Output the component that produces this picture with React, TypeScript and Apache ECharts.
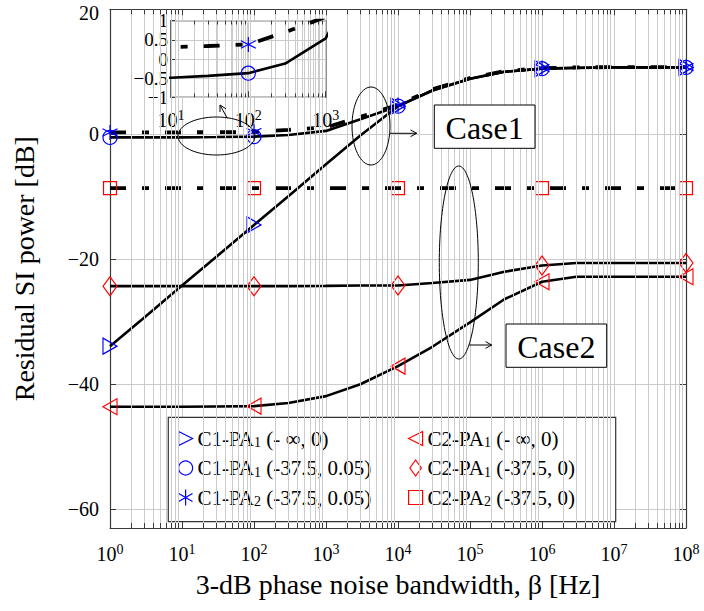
import React, { useEffect, useRef } from 'react';
import * as echarts from 'echarts';

// ---------------- data ----------------
const beta = [1, 3, 10, 30, 100, 300, 1e3, 3e3, 1e4, 3e4, 1e5, 3e5, 1e6, 3e6, 1e7, 3e7, 1e8];
const markerIdx = [0, 4, 8, 12, 16];

const c1Pa1Inf = [-33.9, -29.3, -24.2, -19.6, -14.5, -9.9, -4.8, -0.2, 4.5, 7.0, 8.9, 10.0, 10.5, 10.65, 10.7, 10.7, 10.7];
const c1Pa1 = [-0.5, -0.5, -0.49, -0.44, -0.37, -0.12, 0.54, 2.4, 4.5, 7.0, 8.9, 10.0, 10.5, 10.6, 10.7, 10.7, 10.7];
const c1Pa2 = [0.3, 0.3, 0.31, 0.34, 0.38, 0.7, 1.1, 2.8, 4.7, 7.2, 9.0, 10.1, 10.6, 10.7, 10.75, 10.75, 10.75];
const c2Pa1Inf = [-43.6, -43.6, -43.6, -43.55, -43.5, -43.0, -41.9, -40.0, -37.1, -34.0, -30.1, -26.4, -23.6, -22.8, -22.8, -22.8, -22.8];
const c2Pa1 = [-24.3, -24.3, -24.3, -24.3, -24.3, -24.3, -24.25, -24.2, -24.2, -23.8, -23.3, -22.0, -21.0, -20.6, -20.6, -20.6, -20.6];
const c2Pa2 = [-8.6, -8.6, -8.6, -8.6, -8.6, -8.6, -8.6, -8.6, -8.6, -8.6, -8.6, -8.6, -8.6, -8.6, -8.6, -8.6, -8.6];

const seriesNames = [
  'C1-PA1 (- ∞, 0)',
  'C1-PA1 (-37.5, 0.05)',
  'C1-PA2 (-37.5, 0.05)',
  'C2-PA1 (- ∞, 0)',
  'C2-PA1 (-37.5, 0)',
  'C2-PA2 (-37.5, 0)',
];

const yTicks = [-60, -40, -20, 0, 20];
const insetYTicks = [-1, -0.5, 0, 0.5, 1];
const minorMult = [2, 3, 4, 5, 6, 7, 8, 9];

const xTitle = '3-dB phase noise bandwidth, β [Hz]';
const yTitle = 'Residual SI power [dB]';

// ---------------- styling ----------------
const FONT = 'Liberation Serif, serif';
const GRID_C = '#cbcbcb';
const AXIS_C = '#3a3a3a';
const BLUE = '#0000ff';
const RED = '#ff0000';
const DASH = [16, 16, 7, 16];

const SYM = {
  triR: 'path://M0,0L10,5L0,10Z',
  triL: 'path://M10,0L0,5L10,10Z',
  circle: 'circle',
  star: 'path://M5,0L5,10M0.67,2.5L9.33,7.5M0.67,7.5L9.33,2.5',
  diamond: 'path://M5,0L10,7L5,14L0,7Z',
  square: 'path://M0,0L10,0L10,10L0,10Z',
};

const defs = [
  { name: seriesNames[0], values: c1Pa1Inf, symbol: SYM.triR, size: [14, 16], color: BLUE, dashed: false },
  { name: seriesNames[1], values: c1Pa1, symbol: SYM.circle, size: 14, color: BLUE, dashed: false },
  { name: seriesNames[2], values: c1Pa2, symbol: SYM.star, size: 15, color: BLUE, dashed: true },
  { name: seriesNames[3], values: c2Pa1Inf, symbol: SYM.triL, size: [14, 16], color: RED, dashed: false },
  { name: seriesNames[4], values: c2Pa1, symbol: SYM.diamond, size: [14, 19], color: RED, dashed: false },
  { name: seriesNames[5], values: c2Pa2, symbol: SYM.square, size: 13, color: RED, dashed: true },
];

function minorPositions(lo: number, hi: number) {
  const out: number[] = [];
  for (let p = lo; p < hi; p *= 10) for (const m of minorMult) out.push(p * m);
  return out;
}

const powLabel = (v: number) => `{b|10}{p|${Math.round(Math.log10(v))}}`;
const powRich = {
  b: { fontFamily: FONT, fontSize: 20, lineHeight: 24, color: '#000' },
  p: { fontFamily: FONT, fontSize: 14, lineHeight: 12, verticalAlign: 'top', color: '#000' },
};
const numLabel = (v: number) => (v < 0 ? '\u2212' + String(-v) : String(v));

function lineSeries(d: any, xi: number, yi: number, z: number, name: string) {
  return {
    type: 'line',
    name,
    xAxisIndex: xi,
    yAxisIndex: yi,
    z,
    data: beta.map((b, i) => ({
      value: [b, d.values[i]],
      symbol: markerIdx.includes(i) ? d.symbol : 'none',
    })),
    symbolSize: d.size,
    symbolKeepAspect: false,
    showAllSymbol: true,
    clip: true,
    silent: true,
    itemStyle: { color: 'rgba(0,0,0,0)', borderColor: d.color, borderWidth: 1.2 },
    lineStyle: { color: '#000', width: d.dashed ? 3.8 : 2.6, type: d.dashed ? DASH : 'solid', cap: 'butt' },
    emphasis: { disabled: true },
  };
}

function gridMarkSeries(xi: number, yi: number, z: number, xs: number[], ticks: any[], yLo: number) {
  return [
    {
      type: 'line', name: '_grid' + xi, xAxisIndex: xi, yAxisIndex: yi, z,
      data: [[xs[0], yLo - 100]], symbol: 'none', silent: true, lineStyle: { opacity: 0 },
      markLine: {
        silent: true, symbol: ['none', 'none'], label: { show: false }, emphasis: { disabled: true },
        lineStyle: { color: GRID_C, width: 1, type: 'solid' },
        data: xs.map((x) => ({ xAxis: x })),
      },
    },
    {
      type: 'line', name: '_tick' + xi, xAxisIndex: xi, yAxisIndex: yi, z: z + 0.5,
      data: [[xs[0], yLo - 100]], symbol: 'none', silent: true, lineStyle: { opacity: 0 },
      markLine: {
        silent: true, symbol: ['none', 'none'], label: { show: false }, emphasis: { disabled: true },
        lineStyle: { color: AXIS_C, width: 1, type: 'solid' },
        data: ticks,
      },
    },
  ];
}

function arrow(x1: number, y1: number, x2: number, y2: number) {
  const a = Math.atan2(y2 - y1, x2 - x1);
  const L = 7;
  const w = 0.5;
  return [
    { type: 'line', z: 6, shape: { x1, y1, x2, y2 }, style: { stroke: '#000', lineWidth: 1 } },
    {
      type: 'polyline', z: 6,
      shape: {
        points: [
          [x2 - L * Math.cos(a - w), y2 - L * Math.sin(a - w)],
          [x2, y2],
          [x2 - L * Math.cos(a + w), y2 - L * Math.sin(a + w)],
        ],
      },
      style: { stroke: '#000', fill: 'none', lineWidth: 1 },
    },
  ];
}

function ellipse(cx: number, cy: number, rx: number, ry: number) {
  return { type: 'ellipse', z: 6, shape: { cx, cy, rx, ry }, style: { fill: 'none', stroke: '#000', lineWidth: 1 } };
}

function caseBox(x: number, y: number, w: number, h: number, text: string) {
  return [
    { type: 'rect', z: 6, shape: { x, y, width: w, height: h }, style: { fill: '#fff', stroke: '#000', lineWidth: 1 } },
    {
      type: 'text', z: 7, x: x + w / 2, y: y + h / 2 + 1,
      style: { text, fontFamily: FONT, fontSize: 32, fill: '#000', align: 'center', verticalAlign: 'middle' },
    },
  ];
}

const legendRich = {
  t: { fontFamily: FONT, fontSize: 21, lineHeight: 22, color: '#000' },
  s: { fontFamily: FONT, fontSize: 14, lineHeight: 14, verticalAlign: 'bottom', color: '#000' },
};
const legendFmt = (name: string) => {
  const m = name.match(/^(.*PA)(\d)(.*)$/);
  if (!m) return name;
  return `{t|${m[1]}}{s|${m[2]}}{t|${m[3]}}`;
};
function legendData(idx: number[]) {
  return idx.map((i) => ({
    name: defs[i].name,
    icon: defs[i].symbol,
    itemStyle: { color: 'rgba(0,0,0,0)', borderColor: defs[i].color, borderWidth: 1.2 },
  }));
}

export default function App() {
  const ref = useRef<HTMLDivElement>(null);
  useEffect(() => {
    document.body.style.margin = '0';
    const chart = echarts.init(ref.current!, null, { renderer: 'svg' });

    const mainMinor = minorPositions(1, 1e8);
    const insetMinor = minorPositions(10, 1000);
    const mainTicks = mainMinor.flatMap((x) => [
      [{ coord: [x, -63] }, { coord: [x, -62.2] }],
      [{ coord: [x, 20] }, { coord: [x, 19.2] }],
    ]);
    const insetTicks = insetMinor.flatMap((x) => [
      [{ coord: [x, -1] }, { coord: [x, -0.9] }],
      [{ coord: [x, 1] }, { coord: [x, 0.9] }],
    ]);

    const axisLineMain = { show: true, onZero: false, lineStyle: { color: AXIS_C, width: 1.2 } };

    const option: any = {
      animation: false,
      backgroundColor: '#fff',
      textStyle: { fontFamily: FONT },
      grid: [
        { left: 110, top: 9.3, width: 576, height: 518.7, containLabel: false, outerBoundsMode: 'none' },
        {
          left: 171, top: 20.7, width: 154.7, height: 76.6, containLabel: false, outerBoundsMode: 'none',
          show: true, backgroundColor: '#fff', borderColor: '#000', borderWidth: 1.2, z: 3,
        },
      ],
      xAxis: [
        {
          type: 'log', logBase: 10, min: 1, max: 1e8, gridIndex: 0, position: 'bottom',
          axisLine: axisLineMain,
          axisTick: { show: true, inside: true, length: 6, lineStyle: { color: AXIS_C, width: 1 } },
          splitLine: { show: true, lineStyle: { color: GRID_C, width: 1 } },
          axisLabel: {
            margin: 14, formatter: powLabel, rich: powRich, fontFamily: FONT, color: '#000',
            showMinLabel: true, showMaxLabel: true,
          },
          name: xTitle, nameLocation: 'middle', nameGap: 42,
          nameTextStyle: { fontFamily: FONT, fontSize: 28, color: '#000' },
        },
        {
          type: 'log', logBase: 10, min: 1, max: 1e8, gridIndex: 0, position: 'top',
          axisLine: axisLineMain,
          axisTick: { show: true, inside: true, length: 6, lineStyle: { color: AXIS_C, width: 1 } },
          splitLine: { show: false }, axisLabel: { show: false },
        },
        {
          type: 'log', logBase: 10, min: 10, max: 1000, gridIndex: 1, position: 'bottom', z: 3,
          axisLine: { show: false, onZero: false },
          axisTick: { show: true, inside: true, length: 6, lineStyle: { color: AXIS_C, width: 1 } },
          splitLine: { show: true, lineStyle: { color: GRID_C, width: 1 } },
          axisLabel: {
            margin: 11, formatter: powLabel, rich: powRich, fontFamily: FONT, color: '#000',
            showMinLabel: true, showMaxLabel: true,
          },
        },
      ],
      yAxis: [
        {
          type: 'value', min: -63, max: 20, gridIndex: 0, position: 'left', splitNumber: 5,
          axisLine: axisLineMain,
          axisTick: { show: true, inside: true, length: 6, lineStyle: { color: AXIS_C, width: 1 } },
          splitLine: { show: true, lineStyle: { color: GRID_C, width: 1 } },
          axisLabel: {
            margin: 11, fontFamily: FONT, fontSize: 20, lineHeight: 15, color: '#000',
            showMinLabel: true, showMaxLabel: true,
            formatter: (v: number) =>
              yTicks.includes(v) ? (v === 20 ? '{top|' + numLabel(v) + '}' : numLabel(v)) : '',
            rich: { top: { fontFamily: FONT, fontSize: 20, lineHeight: 15, padding: [7, 0, 0, 0], color: '#000' } },
          },
          name: yTitle, nameLocation: 'middle', nameGap: 72,
          nameTextStyle: { fontFamily: FONT, fontSize: 28, color: '#000' },
        },
        {
          type: 'value', min: -63, max: 20, gridIndex: 0, position: 'right', splitNumber: 5,
          axisLine: axisLineMain,
          axisTick: { show: true, inside: true, length: 6, lineStyle: { color: AXIS_C, width: 1 } },
          splitLine: { show: false }, axisLabel: { show: false },
        },
        {
          type: 'value', min: -1, max: 1, interval: 0.5, gridIndex: 1, position: 'left', z: 3,
          axisLine: { show: false, onZero: false },
          axisTick: { show: true, inside: true, length: 5, lineStyle: { color: AXIS_C, width: 1 } },
          splitLine: { show: true, lineStyle: { color: GRID_C, width: 1 } },
          axisLabel: {
            margin: 3, fontFamily: FONT, fontSize: 19, lineHeight: 15, color: '#000',
            showMinLabel: true, showMaxLabel: true, hideOverlap: false,
            formatter: (v: number) => (insetYTicks.includes(v) ? numLabel(v) : ''),
          },
        },
      ],
      legend: [
        {
          data: legendData([0, 1, 2]), orient: 'vertical', left: 178, top: 428, padding: 0,
          itemGap: 8, itemWidth: 14, itemHeight: 16, selectedMode: false, z: 4,
          formatter: legendFmt, textStyle: { fontFamily: FONT, fontSize: 21, color: '#000', rich: legendRich },
        },
        {
          data: legendData([3, 4, 5]), orient: 'vertical', left: 408, top: 428, padding: 0,
          itemGap: 8, itemWidth: 14, itemHeight: 16, selectedMode: false, z: 4,
          formatter: legendFmt, textStyle: { fontFamily: FONT, fontSize: 21, color: '#000', rich: legendRich },
        },
      ],
      series: [
        ...gridMarkSeries(0, 0, 1, mainMinor, mainTicks, -63),
        ...defs.map((d) => lineSeries(d, 0, 0, 2, d.name)),
        ...gridMarkSeries(2, 2, 4, insetMinor, insetTicks, -1),
        lineSeries(defs[1], 2, 2, 5, 'inset-' + defs[1].name),
        lineSeries(defs[2], 2, 2, 5, 'inset-' + defs[2].name),
      ],
      graphic: [
        {
          type: 'rect', z: 3, shape: { x: 168.3, y: 417.3, width: 447.4, height: 104.4 },
          style: { fill: '#fff', stroke: '#333', lineWidth: 1.2 },
        },
        ellipse(216.5, 136, 38.5, 19),
        ...arrow(227.3, 118.3, 220, 105),
        ellipse(371, 126, 19, 39),
        ...arrow(390, 133.3, 416.7, 133.3),
        ...caseBox(434.3, 105, 100.7, 43.3, 'Case1'),
        ellipse(458.8, 262.5, 19.5, 96.5),
        ...arrow(469.3, 345, 491.7, 345),
        ...caseBox(506, 324, 100.7, 43.3, 'Case2'),
      ],
    };

    chart.setOption(option);
    return () => chart.dispose();
  }, []);
  return <div ref={ref} style={{ width: 704, height: 611 }} />;
}
